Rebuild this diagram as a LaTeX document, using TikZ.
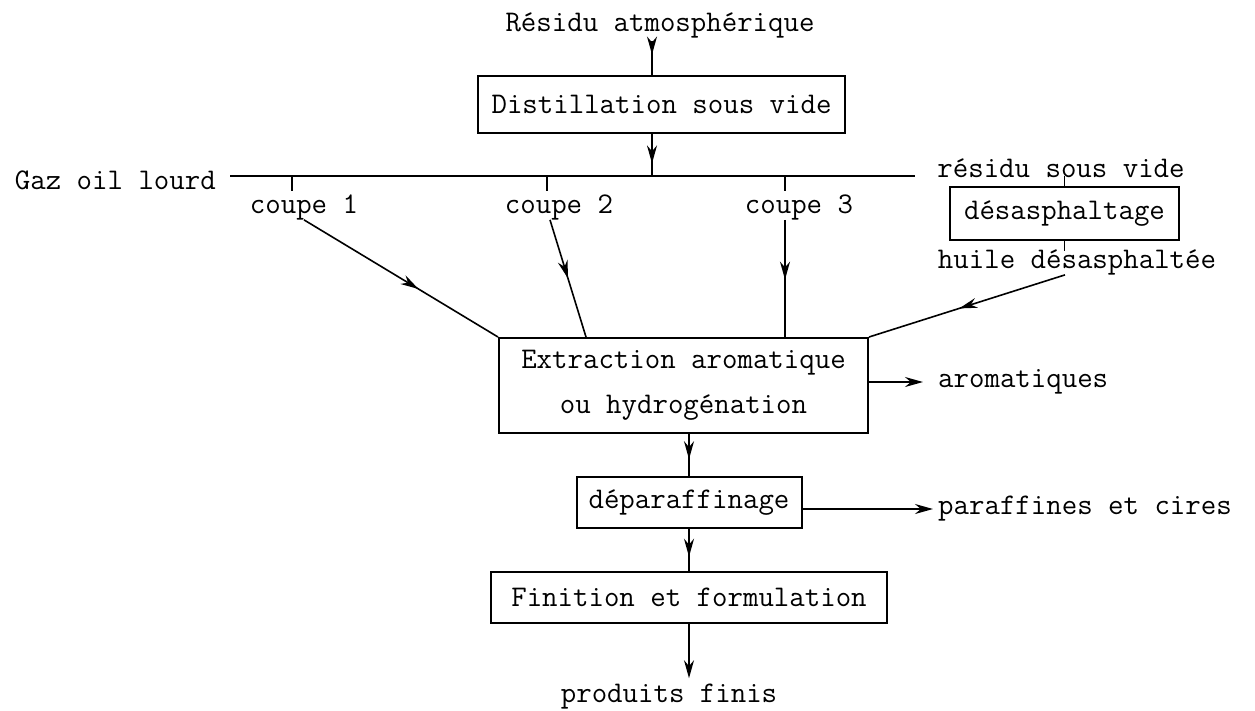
\documentclass[tikz,border=0pt]{standalone}
\usepackage{fontspec}
\usetikzlibrary{arrows.meta, decorations.markings}

\newcommand{\typo}{\ttfamily\fontsize{30}{45}\selectfont}

\begin{document}
\begin{tikzpicture}[
  x=1pt, y=-1pt,
  proc/.style={draw, line width=2pt, font=\typo, inner sep=0pt, align=center},
  lbl/.style={font=\typo, inner sep=0pt},
  link/.style={line width=1.6pt},
  midarrow/.style={postaction={decorate}, decoration={markings,
    mark=at position #1 with {\arrow{Stealth[length=18pt, width=10pt]}}}},
  endarrow/.style={-{Stealth[length=18pt, width=10pt]}}
]
  \useasboundingbox (0,0) rectangle (1255,710);
  % vacuum distillation
  \node[lbl] (atm) at (660,25) {Résidu atmosphérique};
  \node[proc, minimum width=367pt, minimum height=57pt] (dist) at (661.5,104.5) {Distillation sous vide};
  % collector line
  \coordinate (gl) at (230,176);
  \coordinate (rv) at (915,176);
  \coordinate (jn) at (652,176);
  \draw[line width=2.2pt] (gl) -- (rv);
  \node[lbl, anchor=east] (gaz) at (216,180) {Gaz oil lourd};
  \draw[link, midarrow=0.4] ([yshift=-3pt]atm.south -| jn) -- (dist.north -| jn);
  \draw[link, midarrow=0.7] (dist.south -| jn) -- (jn);
  % cuts
  \foreach \n/\tx/\lx in {1/292/304, 2/547/559, 3/785/799} {
    \coordinate (t\n) at (\tx,176);
    \draw[link] (t\n) -- ++(0,15);
    \node[lbl] (c\n) at (\lx,207) {coupe \n};
  }
  % deasphalting
  \node[lbl] (rsv) at (1061,168) {résidu sous vide};
  \node[proc, minimum width=229pt, minimum height=53pt] (dsp) at (1064.5,213.5) {désasphaltage};
  \node[lbl] (hd) at (1077,262) {huile désasphaltée};
  \draw[link] (dsp.north) -- ++(0,-10);
  \draw[link] (dsp.south) -- ++(0,10);
  % extraction
  \node[proc, minimum width=369pt, minimum height=95pt] (extr) at (683.5,385.5) {Extraction aromatique\\ou hydrogénation};
  \draw[link, midarrow=0.59] (c1.south) -- (extr.north west);
  \draw[link, midarrow=0.5] ([xshift=-9pt]c2.south) -- ([xshift=88pt]extr.north west);
  \draw[link, midarrow=0.51] (c3.south -| t3) -- (extr.north -| t3);
  \draw[link, midarrow=0.54] ([xshift=-12pt]hd.south) -- (extr.north east);
  \node[lbl, anchor=west] (arom) at (938,382) {aromatiques};
  \draw[link, endarrow] (extr.east |- arom.west) -- ([xshift=-15pt]arom.west);
  % dewaxing and finishing
  \node[proc, minimum width=225pt, minimum height=51pt] (dep) at (689,502.5) {déparaffinage};
  \node[lbl, anchor=west] (par) at (938,509) {paraffines et cires};
  \draw[link, endarrow] (dep.east |- par.west) -- ([xshift=-5pt]par.west);
  \draw[link, midarrow=0.6] (extr.south -| dep) -- (dep.north);
  \node[proc, minimum width=396pt, minimum height=51pt] (fin) at (689,597.5) {Finition et formulation};
  \draw[link, midarrow=0.66] (dep.south) -- (fin.north);
  \node[lbl] (prod) at (669,697) {produits finis};
  \draw[link, endarrow] (fin.south) -- ([yshift=6pt]fin.south |- prod.north);
\end{tikzpicture}
\end{document}
